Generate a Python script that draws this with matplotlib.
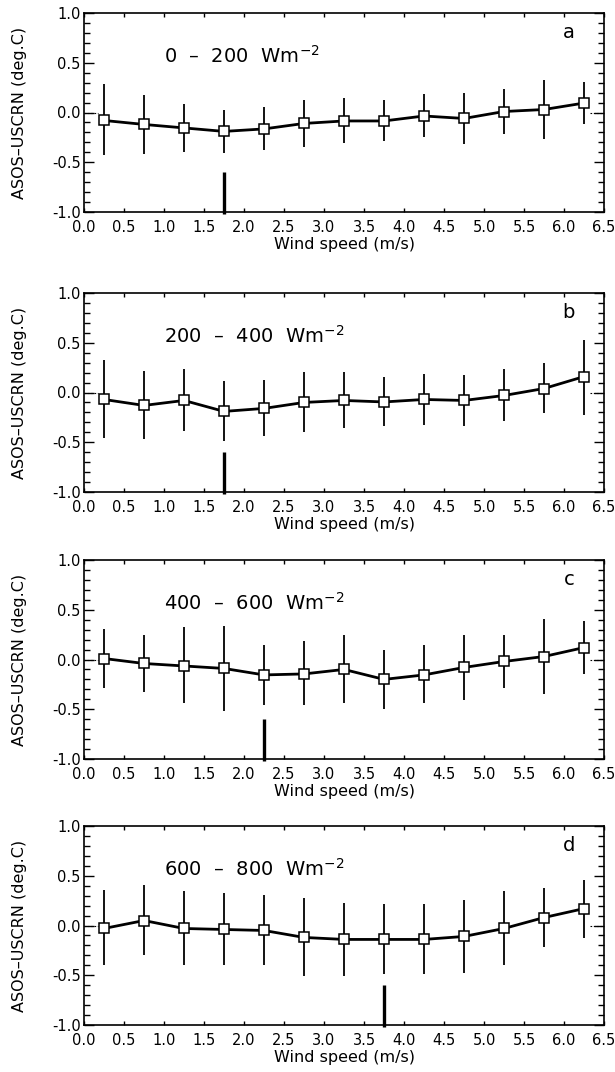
import matplotlib
matplotlib.use("Agg")
import matplotlib.pyplot as plt
import numpy as np
from matplotlib.ticker import MultipleLocator, FormatStrFormatter

plt.rcParams['font.family'] = ['DejaVu Sans']
plt.rcParams['mathtext.fontset'] = 'dejavusans'

# wind speed bin centres (m/s)
wind = [0.25, 0.75, 1.25, 1.75, 2.25, 2.75, 3.25, 3.75, 4.25, 4.75, 5.25, 5.75, 6.25]

# panel a: 0 - 200 W/m2
mean_a = [-0.08, -0.12, -0.155, -0.19, -0.165, -0.11, -0.085, -0.085, -0.035, -0.06, 0.01, 0.03, 0.095]
lo_a = [-0.43, -0.42, -0.40, -0.41, -0.38, -0.35, -0.31, -0.29, -0.25, -0.32, -0.22, -0.27, -0.12]
hi_a = [0.29, 0.18, 0.09, 0.03, 0.06, 0.13, 0.15, 0.13, 0.19, 0.20, 0.24, 0.33, 0.31]

# panel b: 200 - 400 W/m2
mean_b = [-0.07, -0.13, -0.08, -0.19, -0.16, -0.10, -0.08, -0.095, -0.07, -0.08, -0.03, 0.04, 0.16]
lo_b = [-0.46, -0.47, -0.39, -0.49, -0.44, -0.40, -0.36, -0.34, -0.33, -0.34, -0.29, -0.21, -0.23]
hi_b = [0.33, 0.22, 0.24, 0.12, 0.13, 0.21, 0.21, 0.16, 0.19, 0.18, 0.24, 0.30, 0.53]

# panel c: 400 - 600 W/m2
mean_c = [0.01, -0.04, -0.065, -0.09, -0.155, -0.145, -0.10, -0.20, -0.155, -0.08, -0.02, 0.03, 0.12]
lo_c = [-0.29, -0.33, -0.44, -0.52, -0.46, -0.46, -0.44, -0.50, -0.44, -0.41, -0.29, -0.35, -0.15]
hi_c = [0.31, 0.25, 0.33, 0.34, 0.15, 0.19, 0.25, 0.10, 0.15, 0.25, 0.25, 0.41, 0.39]

# panel d: 600 - 800 W/m2
mean_d = [-0.03, 0.05, -0.03, -0.04, -0.05, -0.12, -0.14, -0.14, -0.14, -0.11, -0.03, 0.08, 0.17]
lo_d = [-0.40, -0.30, -0.40, -0.40, -0.40, -0.51, -0.51, -0.49, -0.49, -0.48, -0.40, -0.22, -0.13]
hi_d = [0.36, 0.41, 0.35, 0.33, 0.31, 0.28, 0.23, 0.22, 0.22, 0.26, 0.35, 0.38, 0.46]

# wind speed marked by the thick bar at the bottom of each panel
mark_speed = [1.75, 1.75, 2.25, 3.75]
bands = ['0  \u2013  200  Wm$^{-2}$', '200  \u2013  400  Wm$^{-2}$',
         '400  \u2013  600  Wm$^{-2}$', '600  \u2013  800  Wm$^{-2}$']
letters = ['a', 'b', 'c', 'd']
means = [mean_a, mean_b, mean_c, mean_d]
lows = [lo_a, lo_b, lo_c, lo_d]
highs = [hi_a, hi_b, hi_c, hi_d]

fig = plt.figure(figsize=(6.15, 10.72), dpi=100)
left, width, height = 84 / 615, 520 / 615, 199 / 1072
tops = [13, 293, 560, 826]

for k in range(4):
    bottom = 1 - (tops[k] + 199) / 1072
    ax = fig.add_axes([left, bottom, width, height])
    m = np.array(means[k])
    lo = np.array(lows[k])
    hi = np.array(highs[k])

    ax.vlines(wind, lo, hi, color='black', lw=1.3)
    ax.plot(wind, m, color='black', lw=2.0, marker='s', ms=6.5,
            mfc='white', mec='black', mew=1.1)
    # dotted zero marks at both ends
    ax.plot([0, 0.17], [0, 0], color='black', lw=0.8, ls=(0, (1.5, 1.5)))
    ax.plot([6.33, 6.5], [0, 0], color='black', lw=0.8, ls=(0, (1.5, 1.5)))
    ax.vlines(mark_speed[k], -1.02, -0.6, color='black', lw=2.4, clip_on=False)

    ax.text(1.0, 0.57, bands[k], fontsize=14, va='center', ha='left')
    ax.text(6.06, 0.80, letters[k], fontsize=14, va='center', ha='center')

    ax.set_xlim(0, 6.5)
    ax.set_ylim(-1.0, 1.0)
    ax.xaxis.set_major_locator(MultipleLocator(0.5))
    ax.yaxis.set_major_locator(MultipleLocator(0.5))
    ax.yaxis.set_minor_locator(MultipleLocator(0.1))
    ax.xaxis.set_major_formatter(FormatStrFormatter('%.1f'))
    ax.yaxis.set_major_formatter(FormatStrFormatter('%.1f'))
    ax.tick_params(axis='x', which='major', direction='in', top=True, bottom=True,
                   length=3, width=1.0, labelsize=10.5, pad=6)
    ax.tick_params(axis='y', which='major', direction='in', left=True, right=True,
                   length=7.5, width=1.0, labelsize=10.5, pad=2.5)
    ax.tick_params(axis='y', which='minor', direction='in', left=True, right=True,
                   length=4, width=1.0)
    for s in ax.spines.values():
        s.set_linewidth(1.2)

    ax.set_xlabel('Wind speed (m/s)', fontsize=11.5)
    ax.xaxis.set_label_coords(0.5, -0.125)
    ax.set_ylabel('ASOS\u2013USCRN (deg.C)', fontsize=11.5)
    ax.yaxis.set_label_coords(-0.11, 0.5)

fig.savefig('out.png', dpi=100)
